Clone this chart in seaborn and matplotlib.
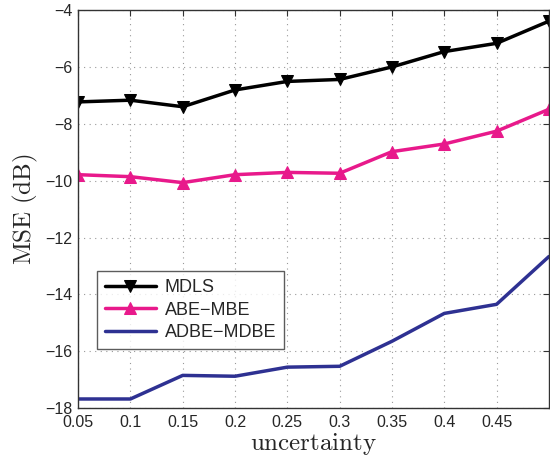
import matplotlib
matplotlib.use("Agg")
import matplotlib.pyplot as plt
import seaborn as sns
import pandas as pd

uncertainty = [0.05, 0.10, 0.15, 0.20, 0.25, 0.30, 0.35, 0.40, 0.45, 0.50]
mdls = [-7.23, -7.17, -7.40, -6.81, -6.51, -6.44, -6.00, -5.46, -5.17, -4.39]
abe_mbe = [-9.79, -9.86, -10.07, -9.79, -9.71, -9.74, -8.98, -8.71, -8.26, -7.49]
adbe_mdbe = [-17.68, -17.68, -16.85, -16.88, -16.56, -16.53, -15.65, -14.67, -14.35, -12.67]
xticks = [0.05, 0.1, 0.15, 0.2, 0.25, 0.3, 0.35, 0.4, 0.45]
xtick_labels = ["0.05", "0.1", "0.15", "0.2", "0.25", "0.3", "0.35", "0.4", "0.45"]
yticks = [-18, -16, -14, -12, -10, -8, -6, -4]

sns.set_style("white")
plt.rcParams["font.family"] = ["Liberation Sans", "DejaVu Sans"]
plt.rcParams["mathtext.fontset"] = "cm"

fig = plt.figure(figsize=(5.5, 4.58), dpi=100)
ax = fig.add_axes([0.142, 0.109, 0.856, 0.869])

df1 = pd.DataFrame({"x": uncertainty, "y": mdls})
df2 = pd.DataFrame({"x": uncertainty, "y": abe_mbe})
df3 = pd.DataFrame({"x": uncertainty, "y": adbe_mdbe})

sns.lineplot(data=df1, x="x", y="y", ax=ax, color="black", lw=2.5,
             marker="v", markersize=9, markeredgecolor="black", label="MDLS")
sns.lineplot(data=df2, x="x", y="y", ax=ax, color="#e8198b", lw=2.5,
             marker="^", markersize=9, markeredgecolor="#e8198b", label="ABE\u2212MBE")
sns.lineplot(data=df3, x="x", y="y", ax=ax, color="#2e3192", lw=2.5,
             label="ADBE\u2212MDBE")

ax.set_xlim(0.05, 0.5)
ax.set_ylim(-18, -4)
ax.set_xticks(xticks)
ax.set_xticklabels(xtick_labels)
ax.set_yticks(yticks)
ax.set_yticklabels(["\u221218", "\u221216", "\u221214", "\u221212", "\u221210", "\u22128", "\u22126", "\u22124"])
ax.tick_params(direction="in", top=True, right=True, labelsize=11.5, length=4, color="#333333")
ax.tick_params(axis="x", pad=5)
ax.tick_params(axis="y", pad=4)
ax.grid(True, linestyle=(0, (1, 4)), color="#999999", linewidth=0.8)
for s in ax.spines.values():
    s.set_color("#333333")
    s.set_linewidth(1.0)

ax.set_xlabel(r"$\mathrm{uncertainty}$", fontsize=18, labelpad=1)
ax.set_ylabel(r"$\mathrm{MSE\ (dB)}$", fontsize=18, labelpad=4)

leg = ax.legend(loc="lower left", bbox_to_anchor=(0.04, 0.148), frameon=True,
                fancybox=False, edgecolor="#333333", fontsize=13,
                handlelength=2.8, borderpad=0.45, labelspacing=0.3,
                handletextpad=0.5, borderaxespad=0)
leg.get_frame().set_linewidth(1.0)

fig.savefig("out.png", dpi=100)
